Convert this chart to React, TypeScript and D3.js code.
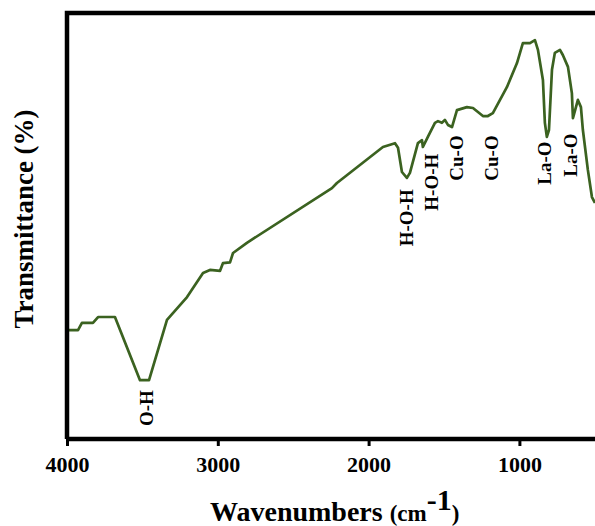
import * as d3 from "d3";
import { useEffect, useRef } from "react";

// FTIR spectrum
const wavenumbers = [
  4000, 3927, 3901, 3828, 3794, 3682, 3516, 3456, 3337, 3204, 3098, 3052, 2985,
  2966, 2919, 2899, 2807, 2243, 2210, 1905, 1825, 1805, 1779, 1746, 1726, 1673,
  1646, 1640, 1607, 1560, 1540, 1514, 1494, 1474, 1447, 1414, 1348, 1308, 1242,
  1209, 1176, 1083, 1016, 977, 930, 897, 877, 844, 831, 818, 804, 784, 765, 731,
  712, 678, 652, 645, 625, 612, 592, 579, 546, 519, 499,
];
const transmittance = [
  25.2, 25.2, 26.9, 26.9, 28.3, 28.3, 13.4, 13.4, 27.6, 33.0, 38.7, 39.4, 39.2,
  41.0, 41.2, 43.4, 45.8, 58.7, 59.9, 68.4, 69.3, 68.2, 62.5, 61.1, 62.3, 69.3,
  70.0, 68.4, 70.8, 74.1, 74.5, 74.1, 74.8, 73.6, 73.1, 77.1, 77.8, 77.6, 75.7,
  75.7, 76.4, 82.5, 88.2, 92.9, 92.9, 93.6, 91.3, 84.2, 74.1, 70.8, 72.4, 86.6,
  90.6, 91.3, 90.1, 87.3, 81.1, 75.2, 77.8, 79.5, 77.8, 72.4, 63.0, 56.6, 55.2,
];

// band assignments
const peakLabels = ["O-H", "H-O-H", "H-O-H", "Cu-O", "Cu-O", "La-O", "La-O"];
const peakWavenumbers = [3470, 1746, 1580, 1414, 1182, 831, 659];
const peakLabelLevels = [6.8, 51.7, 60.1, 65.8, 65.8, 64.6, 66.5];

const xTicks = [4000, 3000, 2000, 1000];

const App: React.FC = () => {
  const svgRef = useRef<SVGSVGElement | null>(null);

  useEffect(() => {
    d3.select(svgRef.current).selectAll("*").remove();

    const width = 595;
    const height = 526;
    const left = 67;
    const top = 13;
    const bottom = 439;
    const font = "'Liberation Serif', 'Times New Roman', serif";

    const svg = d3.select(svgRef.current).attr("width", width).attr("height", height);

    const x = d3.scaleLinear().domain([4000, 400]).range([left, left + 3600 * 0.1508]);
    const y = d3.scaleLinear().domain([0, 100]).range([bottom - 2, top]);

    const points: [number, number][] = wavenumbers.map((w, i) => [w, transmittance[i]]);

    const line = d3
      .line<[number, number]>()
      .x((d) => x(d[0]))
      .y((d) => y(d[1]))
      .curve(d3.curveLinear);

    svg
      .append("path")
      .datum(points)
      .attr("fill", "none")
      .attr("stroke", "#3b6220")
      .attr("stroke-width", 2.7)
      .attr("stroke-linejoin", "round")
      .attr("d", line);

    // frame: left and top lines, bottom axis
    svg
      .append("path")
      .attr("d", `M${left},${bottom}V${top}H${width + 10}`)
      .attr("fill", "none")
      .attr("stroke", "#000")
      .attr("stroke-width", 4.5);

    const xAxis = d3
      .axisBottom(x)
      .tickValues(xTicks)
      .tickFormat(d3.format("d"))
      .tickSize(7)
      .tickPadding(10);

    const gx = svg.append("g").attr("transform", `translate(0,${bottom})`).call(xAxis);
    gx.select(".domain")
      .attr("d", `M${left},0H${width + 10}`)
      .attr("stroke", "#000")
      .attr("stroke-width", 4.5);
    gx.selectAll(".tick line").attr("stroke", "#000").attr("stroke-width", 3);
    gx.selectAll(".tick text")
      .attr("fill", "#000")
      .attr("font-family", font)
      .attr("font-weight", "bold")
      .attr("font-size", 22);

    // peak labels
    svg
      .append("g")
      .selectAll("text")
      .data(peakLabels)
      .join("text")
      .attr(
        "transform",
        (d, i) => `translate(${x(peakWavenumbers[i])},${y(peakLabelLevels[i])}) rotate(-90)`
      )
      .attr("text-anchor", "middle")
      .attr("dominant-baseline", "central")
      .attr("font-family", font)
      .attr("font-weight", "bold")
      .attr("font-size", 19)
      .attr("fill", "#000")
      .text((d) => d);

    // axis titles
    const xt = svg
      .append("text")
      .attr("x", 210)
      .attr("y", 521)
      .attr("font-family", font)
      .attr("font-weight", "bold")
      .attr("fill", "#000");
    xt.append("tspan").attr("font-size", 28).text("Wavenumbers ");
    xt.append("tspan").attr("font-size", 23).text("(cm");
    xt.append("tspan").attr("font-size", 30).attr("dy", -11).text("-1");
    xt.append("tspan").attr("font-size", 23).attr("dy", 11).text(")");

    svg
      .append("text")
      .attr("transform", "translate(33,219) rotate(-90)")
      .attr("text-anchor", "middle")
      .attr("font-family", font)
      .attr("font-weight", "bold")
      .attr("font-size", 27)
      .attr("fill", "#000")
      .text("Transmittance (%)");
  }, []);

  return (
    <div style={{ position: "absolute", left: 0, top: 0, background: "#fff" }}>
      <svg ref={svgRef} style={{ display: "block" }}></svg>
    </div>
  );
};

export default App;
